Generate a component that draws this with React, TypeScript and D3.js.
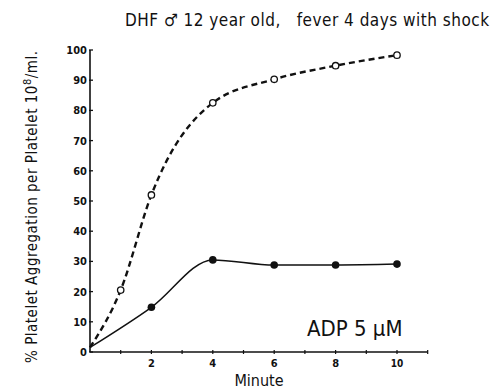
import * as d3 from 'd3';

// Platelet aggregation, DHF male 12 yr, ADP 5 uM
const minutes = [0, 1, 2, 4, 6, 8, 10];
const dashedValues = [1.5, 20.5, 52, 82.5, 90.3, 94.8, 98.3];

const solidMinutes = [0, 2, 4, 6, 8, 10];
const solidValues = [1.5, 14.8, 30.5, 28.8, 28.8, 29.1];

const yTicks = [0, 10, 20, 30, 40, 50, 60, 70, 80, 90, 100];
const xMinorTicks = [1, 2, 3, 4, 5, 6, 7, 8, 9, 10, 11];
const xLabels = [2, 4, 6, 8, 10];

const FONT = '"DejaVu Sans Condensed", "DejaVu Sans", sans-serif';

export default function App() {
  const width = 495;
  const height = 390;

  const x = d3.scaleLinear().domain([0, 11]).range([90, 427.7]);
  const y = d3.scaleLinear().domain([0, 100]).range([352, 50]);

  const dashedPts: [number, number][] = minutes.map((m, i) => [m, dashedValues[i]]);
  const solidPts: [number, number][] = solidMinutes.map((m, i) => [m, solidValues[i]]);

  const line = d3
    .line<[number, number]>()
    .x((d) => x(d[0]))
    .y((d) => y(d[1]))
    .curve(d3.curveMonotoneX);

  return (
    <svg
      width={width}
      height={height}
      style={{ position: 'absolute', left: 0, top: 0, background: '#fff' }}
    >
      {/* title */}
      <text
        x={125}
        y={26}
        fontFamily={FONT}
        fontSize={17}
        fill="#111"
        textLength={364}
        lengthAdjust="spacing"
      >
        DHF ♂ 12 year old,{'\u00a0\u00a0'} fever 4 days with shock
      </text>

      {/* y axis */}
      <line x1={x(0)} x2={x(0)} y1={y(0)} y2={y(100)} stroke="#111" strokeWidth={1.6} />
      {yTicks.map((t) => (
        <g key={t}>
          <line x1={x(0) - 1} x2={x(0) + 3} y1={y(t)} y2={y(t)} stroke="#111" strokeWidth={1.3} />
          <text
            x={x(0) - 3}
            y={y(t) + 4}
            textAnchor="end"
            fontFamily={FONT}
            fontWeight="bold"
            fontSize={11}
            fill="#111"
          >
            {t}
          </text>
        </g>
      ))}

      {/* x axis */}
      <line x1={x(0)} x2={x(11)} y1={y(0)} y2={y(0)} stroke="#111" strokeWidth={1.6} />
      {xMinorTicks.map((t) => (
        <line key={t} x1={x(t)} x2={x(t)} y1={y(0) - 2} y2={y(0) + 2} stroke="#111" strokeWidth={1.2} />
      ))}
      {xLabels.map((t) => (
        <text
          key={t}
          x={x(t)}
          y={y(0) + 15}
          textAnchor="middle"
          fontFamily={FONT}
          fontWeight="bold"
          fontSize={t === 10 ? 10 : 11}
          fill="#111"
        >
          {t}
        </text>
      ))}

      {/* axis titles */}
      <text x={259} y={386} textAnchor="middle" fontFamily={FONT} fontSize={16} fill="#111">
        Minute
      </text>
      <text
        transform={`translate(37,207) rotate(-90)`}
        textAnchor="middle"
        fontFamily={FONT}
        fontSize={15}
        fill="#111"
        textLength={312}
        lengthAdjust="spacing"
      >
        % Platelet Aggregation per Platelet 10
        <tspan dy={-6} fontSize={11}>8</tspan>
        <tspan dy={6}>/ml.</tspan>
      </text>

      {/* curves */}
      <path
        d={line(dashedPts) || ''}
        fill="none"
        stroke="#111"
        strokeWidth={2.4}
        strokeDasharray="6 4"
      />
      <path d={line(solidPts) || ''} fill="none" stroke="#111" strokeWidth={1.5} />

      {dashedPts.slice(1).map((d) => (
        <circle key={d[0]} cx={x(d[0])} cy={y(d[1])} r={3.2} fill="#fff" stroke="#111" strokeWidth={1.3} />
      ))}
      {solidPts.slice(1).map((d) => (
        <circle key={d[0]} cx={x(d[0])} cy={y(d[1])} r={3.8} fill="#111" />
      ))}

      {/* annotation */}
      <text x={307} y={336} fontFamily={FONT} fontSize={22} fill="#111">
        ADP 5 μM
      </text>
    </svg>
  );
}
